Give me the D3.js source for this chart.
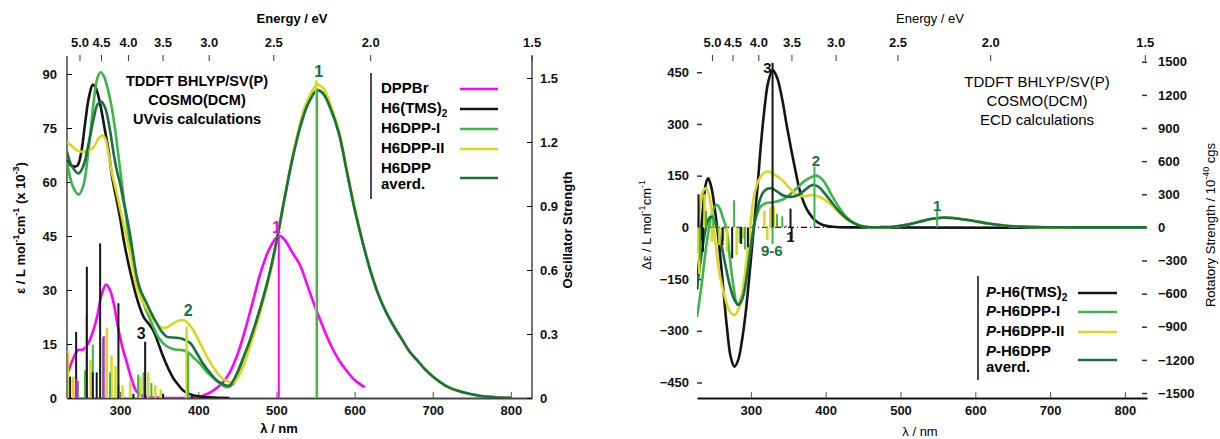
<!DOCTYPE html>
<html>
<head>
<meta charset="utf-8">
<script src="https://cdn.jsdelivr.net/npm/d3@7"></script>
<style>
  body { margin: 0; background: #fff; }
  svg { display: block; font-family: "Liberation Sans", Arial, sans-serif; }
  .tick text { font-size: 13px; font-weight: bold; fill: #111; }
</style>
</head>
<body>
<svg id="chart" width="1220" height="439"></svg>
<script>
'use strict';

// ---------- data ----------
const energyTicks = [5.0, 4.5, 4.0, 3.5, 3.0, 2.5, 2.0, 1.5];
const wavelengthTicks = [300, 400, 500, 600, 700, 800];
const epsTicks = [0, 15, 30, 45, 60, 75, 90];
const oscTicks = [0, 0.3, 0.6, 0.9, 1.2, 1.5];
const dEpsTicks = [-450, -300, -150, 0, 150, 300, 450];
const rotTicks = [-1500, -1200, -900, -600, -300, 0, 300, 600, 900, 1200, 1500];

const uvNames = ['DPPBr', 'H6(TMS)2', 'H6DPP-I', 'H6DPP-II', 'H6DPP averd.'];
const ecdNames = ['P-H6(TMS)2', 'P-H6DPP-I', 'P-H6DPP-II', 'P-H6DPP averd.'];

// UV/vis spectra, [lambda nm, eps x 10^-3]
const greenTail = [[450, 7], [460, 12.5], [470, 18.5], [480, 25.5], [490, 33.5], [500, 43.5], [510, 55], [520, 66],
  [530, 75], [540, 81.5], [552, 85.5], [560, 84.5], [570, 80], [580, 73.5], [590, 63], [600, 52.5], [610, 43.5],
  [620, 35.5], [630, 29], [640, 24], [650, 20], [660, 16.5], [670, 13], [680, 10.5], [690, 8], [700, 6], [720, 3],
  [740, 1.5], [760, 0.6], [780, 0.2], [800, 0.05]];
const uvDPPBr = [[232, 6.4], [240, 11], [246, 13.3], [253, 13.5], [260, 15.5], [266, 19], [271, 23], [276, 28.5],
  [282, 31.5], [287, 30], [292, 26], [297, 20], [303, 14], [309, 9.5], [315, 5], [321, 1.8], [330, 0.5], [345, 0.1],
  [380, 0], [400, 0.3], [410, 1], [420, 2.2], [430, 4], [440, 7], [450, 12], [460, 19], [470, 27], [480, 35],
  [490, 41], [500, 44.5], [505, 45], [512, 43.5], [520, 40.5], [530, 37], [540, 31], [550, 25], [560, 19.5],
  [570, 14.5], [580, 10.5], [590, 7.5], [600, 5], [613, 3]];
const uvTMS = [[232, 66], [238, 64.5], [245, 64.5], [250, 68], [255, 76], [260, 83.5], [265, 87], [268, 86.5],
  [272, 84], [276, 80], [280, 75], [285, 69], [290, 61], [296, 54.5], [300, 50], [304, 44.5], [308, 40], [313, 35],
  [321, 28], [330, 22.5], [337, 20.5], [343, 18.5], [350, 14.5], [355, 11.5], [362, 8], [368, 5.5], [375, 3.5],
  [381, 2], [390, 1], [400, 0.5], [420, 0.1], [440, 0]];
const uvDPP1 = [[232, 65.5], [240, 58.5], [247, 56.5], [253, 59], [260, 70], [266, 82], [271, 89], [275, 90.5],
  [279, 89.5], [284, 86], [289, 81], [294, 74], [298, 67], [302, 60], [306, 53], [310, 46.5], [315, 39.5], [320, 34],
  [326, 28.5], [334, 24], [340, 21], [350, 16.5], [360, 14.3], [370, 13.5], [380, 13.3], [388, 12.5], [395, 11],
  [402, 9.6], [410, 7.5], [419, 5.6], [428, 4], [436, 3], [444, 3.8]].concat(greenTail.slice(1));
const uvDPP2 = [[232, 71], [238, 70], [245, 68.8], [253, 68.4], [260, 68.8], [266, 69.6], [272, 72], [277, 73],
  [281, 72], [285, 68], [290, 62], [296, 56.5], [300, 52.5], [304, 48.5], [308, 44.5], [313, 40], [317, 35.5],
  [321, 31], [326, 28], [330, 26.3], [337, 23.8], [343, 21.7], [350, 20], [356, 19.4], [363, 20], [370, 21],
  [377, 21.6], [383, 21.5], [390, 20], [397, 17.5], [404, 14.5], [411, 11.5], [420, 8.3], [428, 6], [436, 4.8],
  [445, 4.3], [455, 7.5], [465, 13.5], [475, 20.5], [485, 28.5], [495, 37.5], [505, 49], [515, 61], [525, 71.5],
  [535, 80], [545, 85], [552, 87], [560, 86], [570, 81], [580, 74], [590, 63.5], [600, 53], [610, 43.5],
  [620, 35.5], [630, 29], [640, 24], [650, 20], [660, 16.5], [670, 13], [680, 10.5], [690, 8], [700, 6], [720, 3],
  [740, 1.5], [760, 0.6], [780, 0.2], [800, 0.05]];
const uvDPPavg = [[232, 68.4], [238, 64.5], [247, 62.4], [253, 64.5], [260, 71], [266, 77.5], [271, 81.5],
  [276, 82.3], [281, 80.5], [287, 74.4], [292, 67.5], [296, 63], [300, 59.5], [304, 55], [308, 51], [313, 45],
  [317, 39.3], [321, 34], [326, 30], [334, 26.3], [340, 23.5], [347, 20.7], [353, 18.5], [360, 17], [368, 16.8],
  [377, 16.6], [384, 16], [390, 15.2], [398, 12.5], [406, 9.6], [415, 7], [423, 5], [432, 3.8], [440, 3.5]]
  .concat(greenTail.slice(1));

// oscillator strengths, [lambda nm, f]
const oscDPPBr = [[244, 0.09], [279, 0.29], [503, 0.755]];
const oscTMS = [[236, 0.1], [243.7, 0.31], [257.4, 0.615], [265, 0.12], [270, 0.12], [274.4, 0.725],
  [297.8, 0.444], [317, 0.02], [332, 0.264], [355, 0.02], [392, 0.01]];
const oscDPP1 = [[232, 0.21], [246, 0.08], [255, 0.13], [265, 0.25], [278, 0.28], [287, 0.12], [298, 0.06],
  [323, 0.11], [330, 0.12], [340, 0.07], [387, 0.21], [552, 1.45]];
const oscDPP2 = [[233, 0.22], [240, 0.1], [257, 0.39], [262, 0.18], [283, 0.33], [289, 0.2], [294, 0.15],
  [303, 0.06], [313, 0.08], [326, 0.1], [336, 0.12], [345, 0.06], [352, 0.04], [385, 0.334], [551, 1.49]];

// ECD spectra, [lambda nm, delta eps]
const ecdTail = [[460, 0], [470, 0.5], [490, 2], [510, 8], [525, 16], [540, 24], [555, 28], [570, 27], [585, 23],
  [600, 18], [615, 12], [630, 7.5], [645, 4], [660, 2], [680, 0.6], [700, 0.2], [730, 0], [829, 0]];
const ecdTMS = [[228, -180], [232, -60], [236, 55], [240, 128], [243, 142], [247, 118], [252, 50], [257, -40],
  [262, -150], [268, -290], [273, -375], [278, -404], [283, -385], [288, -330], [293, -249], [298, -140], [304, 0],
  [309, 120], [313, 230], [318, 340], [323, 420], [329, 456], [335, 435], [342, 370], [348, 295], [354, 225],
  [360, 160], [365, 110], [372, 65], [378, 41], [386, 20], [396, 7], [410, 2], [430, 0], [829, 0]];
const ecdDPP1 = [[228, -260], [234, -170], [240, -60], [246, 20], [251, 58], [255, 65], [259, 52], [263, 25],
  [267, 0], [272, -90], [277, -175], [282, -225], [287, -205], [292, -150], [297, -85], [302, -20], [307, 30],
  [313, 60], [320, 70], [330, 73], [342, 80], [352, 95], [362, 115], [372, 135], [382, 147], [388, 150], [395, 140],
  [402, 118], [409, 89], [418, 58], [427, 31], [437, 14], [447, 5], [455, 1.5]].concat(ecdTail);
const ecdDPP2 = [[228, -75], [232, 60], [236, 105], [240, 113], [244, 95], [248, 40], [253, -50], [258, -133],
  [265, -200], [272, -245], [278, -254], [284, -235], [290, -170], [296, -60], [300, 20], [304, 89], [310, 135],
  [316, 155], [322, 162], [328, 158], [335, 148], [342, 137], [350, 118], [360, 97], [370, 90], [382, 94],
  [392, 88], [400, 78], [410, 60], [418, 42], [428, 24], [440, 10], [452, 2]].concat(ecdTail);
const ecdDPPavg = [[228, -172], [232, -110], [236, -50], [240, 0], [243, 22], [246.5, 31], [250, 25], [255, 0],
  [260, -45], [266, -110], [272, -170], [278, -210], [284, -225], [289, -205], [294, -150], [299, -75], [304, 0],
  [310, 65], [316, 100], [322, 112], [328, 113], [335, 104], [342, 94], [350, 89], [356, 89], [364, 95], [372, 108],
  [380, 121], [385, 123], [392, 115], [400, 95], [409, 70], [420, 42], [431, 21], [442, 8], [453, 1.5]]
  .concat(ecdTail);

// rotatory strengths, [lambda nm, R x 10^-40 cgs]
const rotTMS = [[230, 300], [236, -220], [262, -160], [275, -280], [287, -150], [296, -180], [329, 1490],
  [353, 170], [354.5, -110]];
const rotDPP1 = [[232, -300], [240, 150], [250, 120], [263, -120], [277.6, 246], [285, -140], [292, -200],
  [329, -150], [335, 120], [342, 100], [347, 20], [385, 550], [549, 150]];
const rotDPP2 = [[231, -420], [238, 300], [248, -130], [258, -160], [268, -220], [281, -250], [290, -100],
  [318, 150], [322, -114], [326, 180], [331, 190]];

// ---------- drawing ----------
const colors = {
  dppbr: '#ff00ff', tms: '#141414', dpp1: '#3db54a', dpp2: '#d8d81c', avg: '#19713e'
};
const svg = d3.select('#chart');
const toLambda = e => 1239.84 / e;

function panelAxes(g, x, yTop, yBottom, domainColor) {
  g.append('g')
    .attr('transform', `translate(0,${yTop})`)
    .call(d3.axisTop(x).tickValues(energyTicks.map(toLambda)).tickFormat((d, i) => energyTicks[i].toFixed(1))
      .tickSize(-6).tickPadding(8).tickSizeOuter(0))
    .call(a => a.select('.domain').remove())
    .call(a => a.selectAll('.tick line').attr('stroke', '#333'));
  g.append('g')
    .attr('transform', `translate(0,${yBottom})`)
    .call(d3.axisBottom(x).tickValues(wavelengthTicks).tickSize(-6).tickPadding(8).tickSizeOuter(0))
    .call(a => a.select('.domain').attr('stroke', domainColor).attr('stroke-width', 1.8))
    .call(a => a.selectAll('.tick line').attr('stroke', '#555'));
}

function sticks(g, data, x, y, color, width) {
  g.selectAll(null).data(data).join('line')
    .attr('x1', d => x(d[0])).attr('x2', d => x(d[0]))
    .attr('y1', y(0)).attr('y2', d => y(d[1]))
    .attr('stroke', color).attr('stroke-width', width);
}

function curve(g, data, x, y, color) {
  const line = d3.line().x(d => x(d[0])).y(d => y(d[1])).curve(d3.curveCatmullRom.alpha(0.5));
  g.append('path').datum(data).attr('d', line)
    .attr('fill', 'none').attr('stroke', color).attr('stroke-width', 2.6).attr('stroke-linejoin', 'round');
}

function label(g, txt, x, y, color, size = 15) {
  g.append('text').attr('x', x).attr('y', y).attr('text-anchor', 'middle').attr('dominant-baseline', 'middle')
    .attr('font-size', size).attr('font-weight', 'bold').attr('fill', color).text(txt);
}

// ----- left panel: UV/vis -----
const xL = d3.scaleLinear().domain([232, 827]).range([67, 532]);
const yL = d3.scaleLinear().domain([0, 95]).range([398, 56]);
const fL = d3.scaleLinear().domain([0, 1.6]).range([398, 56.7]);

const left = svg.append('g');
left.append('clipPath').attr('id', 'clipL').append('rect').attr('x', 67).attr('y', 50).attr('width', 465).attr('height', 348);

panelAxes(left, xL, 55, 398, '#444');

left.append('g').attr('transform', 'translate(67,0)')
  .call(d3.axisLeft(yL).tickValues(epsTicks).tickSize(-5).tickPadding(10).tickSizeOuter(0))
  .call(a => a.select('.domain').attr('d', `M0,${yL(0)}V56`).attr('stroke', '#444').attr('stroke-width', 1.5));
left.append('g').attr('transform', 'translate(532,0)')
  .call(d3.axisRight(fL).tickValues(oscTicks).tickFormat(d => d === 0 ? '0' : d3.format('.1f')(d))
    .tickSize(-5).tickPadding(8).tickSizeOuter(0))
  .call(a => a.select('.domain').attr('d', `M0,${fL(0)}V56`).attr('stroke', '#444').attr('stroke-width', 1.5));

const plotL = left.append('g').attr('clip-path', 'url(#clipL)');
curve(plotL, uvDPPBr, xL, yL, colors.dppbr);
curve(plotL, uvTMS, xL, yL, colors.tms);
curve(plotL, uvDPP1, xL, yL, colors.dpp1);
curve(plotL, uvDPP2, xL, yL, colors.dpp2);
curve(plotL, uvDPPavg, xL, yL, colors.avg);
sticks(plotL, oscDPP2, xL, fL, colors.dpp2, 2.5);
sticks(plotL, oscDPP1, xL, fL, colors.dpp1, 2);
sticks(plotL, oscTMS, xL, fL, colors.tms, 2);
sticks(plotL, oscDPPBr, xL, fL, colors.dppbr, 2);

label(left, '1', xL(500), 229, colors.dppbr, 16);
label(left, '1', xL(554), 73, colors.avg, 16);
label(left, '2', xL(387), 312, colors.avg, 16);
label(left, '3', xL(327), 335, colors.tms, 16);

left.append('text').attr('x', 292).attr('y', 20).attr('text-anchor', 'middle').attr('dominant-baseline', 'middle')
  .attr('font-size', 13).attr('font-weight', 'bold').text('Energy / eV');
left.append('text').attr('x', 279).attr('y', 430).attr('text-anchor', 'middle').attr('dominant-baseline', 'middle')
  .attr('font-size', 13).attr('font-weight', 'bold').text('λ / nm');
left.append('text').attr('transform', 'translate(22,228) rotate(-90)').attr('text-anchor', 'middle')
  .attr('dominant-baseline', 'middle').attr('font-size', 13).attr('font-weight', 'bold')
  .html('ε / L mol<tspan dy="-5" font-size="9">-1</tspan><tspan dy="5">cm</tspan><tspan dy="-5" font-size="9">-1</tspan><tspan dy="5"> (x 10</tspan><tspan dy="-5" font-size="9">-3</tspan><tspan dy="5">)</tspan>');
left.append('text').attr('transform', 'translate(569,230) rotate(-90)').attr('text-anchor', 'middle')
  .attr('dominant-baseline', 'middle').attr('font-size', 13).attr('font-weight', 'bold').text('Oscillator Strength');

['TDDFT BHLYP/SV(P)', 'COSMO(DCM)', 'UVvis calculations'].forEach((t, i) => {
  left.append('text').attr('x', 197).attr('y', 82 + i * 19).attr('text-anchor', 'middle')
    .attr('dominant-baseline', 'middle').attr('font-size', 14.5).attr('font-weight', 'bold').text(t);
});

// legend, left
const legL = left.append('g');
legL.append('line').attr('x1', 371).attr('x2', 371).attr('y1', 73).attr('y2', 199).attr('stroke', '#111').attr('stroke-width', 1.5);
const legLItems = [
  { name: uvNames[0], c: colors.dppbr, ty: [89], ly: 89 },
  { name: uvNames[1], c: colors.tms, ty: [109], ly: 109 },
  { name: uvNames[2], c: colors.dpp1, ty: [129], ly: 129 },
  { name: uvNames[3], c: colors.dpp2, ty: [149], ly: 149 },
  { name: uvNames[4], c: colors.avg, ty: [169, 185], ly: 178 }
];
legLItems.forEach(d => {
  const parts = d.name === 'H6DPP averd.' ? ['H6DPP', 'averd.'] : [d.name];
  parts.forEach((p, j) => {
    const t = legL.append('text').attr('x', 381).attr('y', d.ty[j]).attr('dominant-baseline', 'middle')
      .attr('font-size', 15).attr('font-weight', 'bold');
    if (p === 'H6(TMS)2') t.html('H6(TMS)<tspan dy="5" font-size="10">2</tspan>');
    else t.text(p);
  });
  legL.append('line').attr('x1', 460).attr('x2', 498).attr('y1', d.ly).attr('y2', d.ly)
    .attr('stroke', d.c).attr('stroke-width', 2.5);
});

// ----- right panel: ECD -----
const xR = d3.scaleLinear().domain([228, 829.5]).range([697, 1147]);
const yR = d3.scaleLinear().domain([-495, 500]).range([398, 55]);
const rR = d3.scaleLinear().domain([-1545, 1561]).range([398, 55]);

const right = svg.append('g');
right.append('clipPath').attr('id', 'clipR').append('rect').attr('x', 697).attr('y', 50).attr('width', 450).attr('height', 348);

panelAxes(right, xR, 55, 398, '#111');

right.append('g').attr('transform', 'translate(697,0)')
  .call(d3.axisLeft(yR).tickValues(dEpsTicks).tickSize(-5).tickPadding(8).tickSizeOuter(0))
  .call(a => a.select('.domain').remove())
  .call(a => a.selectAll('.tick line').attr('stroke', '#333').attr('stroke-width', 1.5));
right.append('g').attr('transform', 'translate(1147,0)')
  .call(d3.axisRight(rR).tickValues(rotTicks).tickFormat(d3.format('d')).tickSize(-5).tickPadding(11).tickSizeOuter(0))
  .call(a => a.select('.domain').remove())
  .call(a => a.selectAll('.tick line').attr('stroke', '#333').attr('stroke-width', 1.5));

const plotR = right.append('g').attr('clip-path', 'url(#clipR)');
plotR.append('line').attr('x1', 697).attr('x2', 1147).attr('y1', yR(0)).attr('y2', yR(0))
  .attr('stroke', '#111').attr('stroke-width', 1.2).attr('stroke-dasharray', '6,3,1,3');
curve(plotR, ecdTMS, xR, yR, colors.tms);
curve(plotR, ecdDPP1, xR, yR, colors.dpp1);
curve(plotR, ecdDPP2, xR, yR, colors.dpp2);
curve(plotR, ecdDPPavg, xR, yR, colors.avg);
sticks(plotR, rotDPP2, xR, rR, colors.dpp2, 2.5);
sticks(plotR, rotDPP1, xR, rR, colors.dpp1, 2);
sticks(plotR, rotTMS, xR, rR, colors.tms, 2);

label(right, '3', xR(322), 69, colors.tms, 15);
label(right, '2', xR(387), 162, colors.avg, 15);
label(right, '1', xR(549), 207, colors.avg, 15);
label(right, '1', xR(353), 238, colors.tms, 15);
label(right, '9-6', xR(328), 252, colors.avg, 15);

right.append('text').attr('x', 930).attr('y', 20).attr('text-anchor', 'middle').attr('dominant-baseline', 'middle')
  .attr('font-size', 13).text('Energy / eV');
right.append('text').attr('x', 920).attr('y', 433).attr('text-anchor', 'middle').attr('dominant-baseline', 'middle')
  .attr('font-size', 13).text('λ / nm');
right.append('text').attr('transform', 'translate(648,225) rotate(-90)').attr('text-anchor', 'middle')
  .attr('dominant-baseline', 'middle').attr('font-size', 13)
  .html('Δε / L mol<tspan dy="-5" font-size="9">-1</tspan><tspan dy="5">cm</tspan><tspan dy="-5" font-size="9">-1</tspan>');
right.append('text').attr('transform', 'translate(1212,225) rotate(-90)').attr('text-anchor', 'middle')
  .attr('dominant-baseline', 'middle').attr('font-size', 13)
  .html('Rotatory Strength / 10<tspan dy="-5" font-size="9">-40</tspan><tspan dy="5"> cgs</tspan>');

['TDDFT BHLYP/SV(P)', 'COSMO(DCM)', 'ECD calculations'].forEach((t, i) => {
  right.append('text').attr('x', 1037).attr('y', 83 + i * 19).attr('text-anchor', 'middle')
    .attr('dominant-baseline', 'middle').attr('font-size', 15).text(t);
});

// legend, right
const legR = right.append('g');
legR.append('line').attr('x1', 978).attr('x2', 978).attr('y1', 276).attr('y2', 380).attr('stroke', '#111').attr('stroke-width', 1.5);
const legRItems = [
  { name: ecdNames[0], c: colors.tms, ty: [293], ly: 293 },
  { name: ecdNames[1], c: colors.dpp1, ty: [312], ly: 312 },
  { name: ecdNames[2], c: colors.dpp2, ty: [332], ly: 332 },
  { name: ecdNames[3], c: colors.avg, ty: [352, 368], ly: 360 }
];
legRItems.forEach(d => {
  const body = d.name.slice(2);
  const parts = body === 'H6DPP averd.' ? ['H6DPP', 'averd.'] : [body];
  parts.forEach((p, j) => {
    const t = legR.append('text').attr('x', 986).attr('y', d.ty[j]).attr('dominant-baseline', 'middle')
      .attr('font-size', 15).attr('font-weight', 'bold');
    const sub = p === 'H6(TMS)2' ? 'H6(TMS)<tspan dy="5" font-size="10">2</tspan>' : p;
    t.html(j === 0 ? `<tspan font-style="italic">P</tspan>-${sub}` : sub);
  });
  legR.append('line').attr('x1', 1078).attr('x2', 1117).attr('y1', d.ly).attr('y2', d.ly)
    .attr('stroke', d.c).attr('stroke-width', 2.5);
});
</script>
</body>
</html>
